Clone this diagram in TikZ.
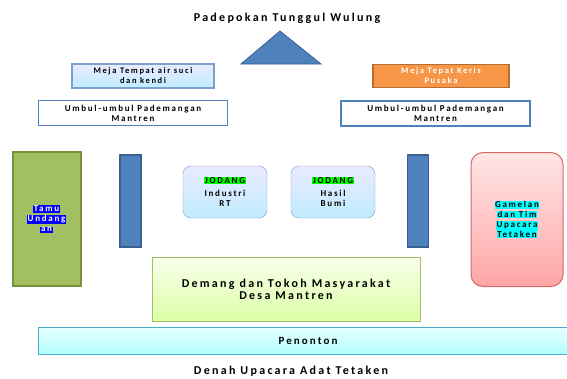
\documentclass[tikz,border=0pt]{standalone}
\usepackage{fontspec}
\setmainfont{Carlito}
\newfontfamily\lebar[LetterSpace=19]{Carlito}
\usetikzlibrary{shapes,positioning}
\definecolor{biru}{HTML}{4F81BD}
\definecolor{birutua}{HTML}{3A6090}
\definecolor{birumuda}{HTML}{7BA0CD}
\definecolor{oranye}{HTML}{F79646}
\definecolor{oranyetua}{HTML}{B66D31}
\definecolor{hijau}{HTML}{A2BF62}
\definecolor{hijautua}{HTML}{76923C}
\definecolor{merah}{HTML}{D46A68}
\definecolor{toska}{HTML}{4BACC6}
\definecolor{sian}{RGB}{0,255,255}
\definecolor{stabilo}{RGB}{0,255,0}
\definecolor{birupekat}{RGB}{0,0,255}
\newcommand{\sorot}[2]{{\setlength{\fboxsep}{0.6pt}\colorbox{#1}{#2}}}

\begin{document}
\begin{tikzpicture}[x=1pt,y=-1pt,
  kotak/.style={draw,inner sep=0pt,align=center,font=\lebar\bfseries\fontsize{9}{10}\selectfont},
  mejabox/.style={kotak,draw=birumuda,line width=1.2pt,top color=blue!8,bottom color=blue!30!cyan!25,minimum height=24pt},
  umbul/.style={kotak,draw=biru,line width=1.8pt,fill=white,minimum width=189pt,minimum height=25pt},
  tiang/.style={draw=birutua,line width=1.2pt,fill=biru,minimum width=21pt,minimum height=92pt,inner sep=0pt},
  jodang/.style={kotak,draw=birumuda,rounded corners=8pt,top color=blue!8,bottom color=blue!30!cyan!25,minimum width=84pt,minimum height=52pt},
  judul/.style={font=\lebar\bfseries\fontsize{12}{14}\selectfont}
]
\clip (0,0) rectangle (567,378);

\node[judul]	(padepokan)	at (287,18)	{Padepokan Tunggul Wulung};
\filldraw[fill=biru,draw=birutua,line width=0.8pt] (241,64) -- (280,31) -- (321,64) -- cycle;

\node[mejabox,minimum width=142pt,font=\lebar\bfseries\fontsize{8.5}{10}\selectfont]	(air)	at (143,76)	{Meja Tempat air suci\\dan kendi};
\node[kotak,draw=oranyetua,line width=1.5pt,fill=oranye,text=white,minimum width=136pt,minimum height=23pt,font=\lebar\bfseries\fontsize{8.5}{10}\selectfont]	(keris)	at (441,76)	{Meja Tepat Keris\\Pusaka};

\node[umbul]	(umbulkiri)	at (133,113)	{Umbul-umbul Pademangan\\Mantren};
\node[umbul]	(umbulkanan)	at (435.5,113.5)	{Umbul-umbul Pademangan\\Mantren};

\node[kotak,draw=hijautua,line width=2pt,fill=hijau,minimum width=68pt,minimum height=134pt,text=white,font=\lebar\bfseries\fontsize{9}{10}\selectfont]	(tamu)	at (46.5,219)	{\sorot{birupekat}{Tamu}\\\sorot{birupekat}{Undang}\\\sorot{birupekat}{an}};
\node[tiang]	(tiangkiri)	at (130.5,201)	{};
\node[jodang]	(industri)	at (225,192)	{\sorot{stabilo}{JODANG}\\[3pt]Industri\\RT};
\node[jodang]	(hasil)	at (333,192)	{\sorot{stabilo}{JODANG}\\[3pt]Hasil\\Bumi};
\node[tiang]	(tiangkanan)	at (418,201)	{};
\node[kotak,draw=merah,line width=1pt,rounded corners=12pt,top color=red!10,bottom color=red!35,minimum width=92pt,minimum height=134pt,font=\lebar\bfseries\fontsize{9}{9.8}\selectfont]	(gamelan)	at (517,219.5)	{\sorot{sian}{Gamelan}\\\sorot{sian}{dan Tim}\\\sorot{sian}{Upacara}\\\sorot{sian}{Tetaken}};

\node[kotak,draw=hijau,line width=1pt,top color=green!30!yellow!8,bottom color=green!40!yellow!35,minimum width=268pt,minimum height=64pt,font=\lebar\bfseries\fontsize{12}{12.5}\selectfont]	(demang)	at (286,289.5)	{Demang dan Tokoh Masyarakat\\Desa Mantren};
\node[kotak,draw=toska,line width=1pt,top color=cyan!10,bottom color=cyan!30,minimum width=540pt,minimum height=27pt,font=\lebar\bfseries\fontsize{11}{12}\selectfont]	(penonton)	at (308,340.5)	{Penonton};

\node[judul]	(denah)	at (291,371)	{Denah Upacara Adat Tetaken};
\end{tikzpicture}
\end{document}
